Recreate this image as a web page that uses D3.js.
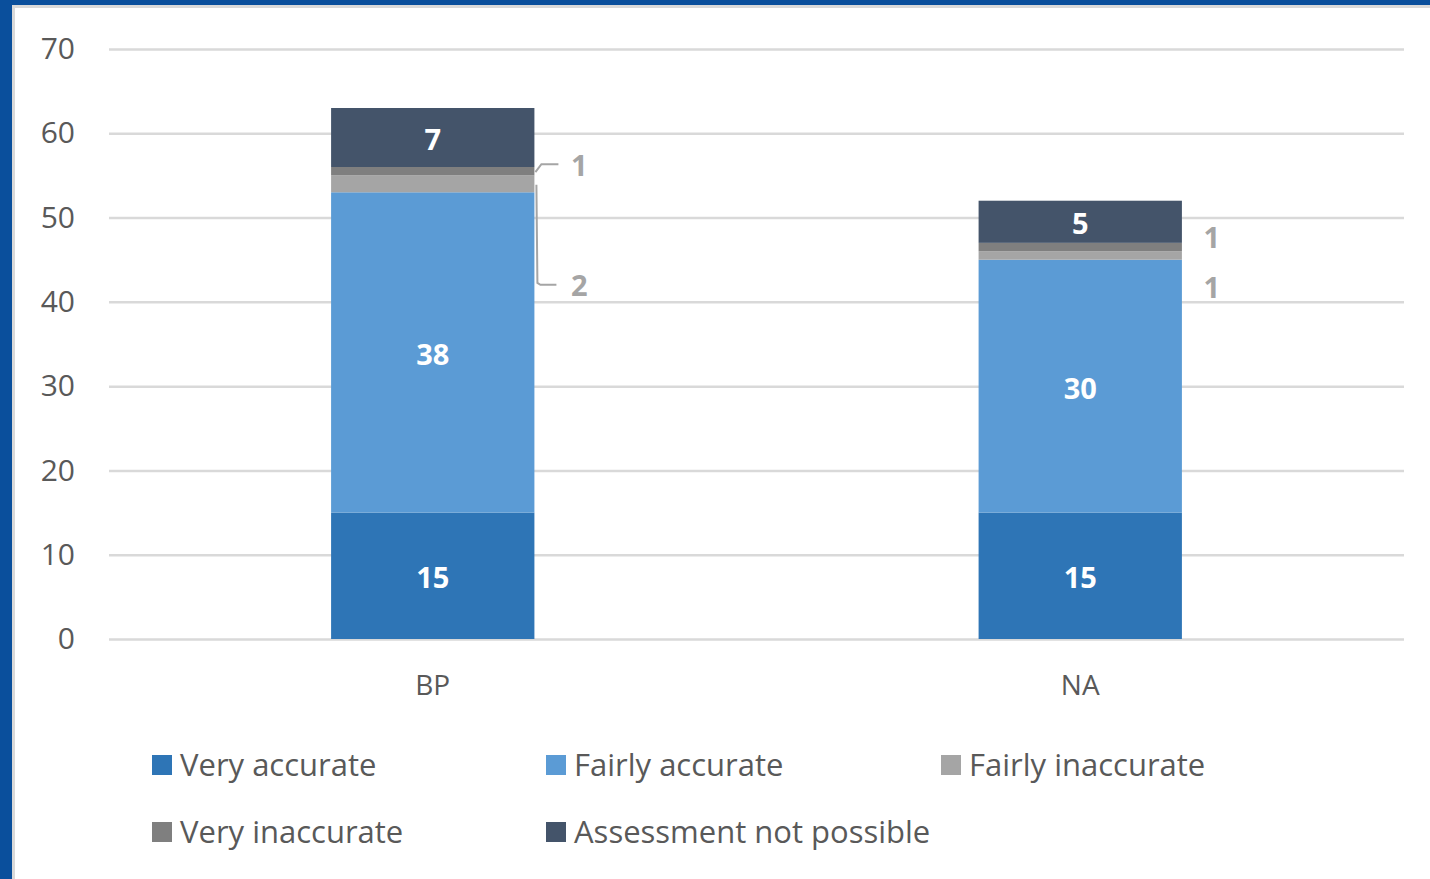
<!DOCTYPE html>
<html>
<head>
<meta charset="utf-8">
<script src="https://cdn.jsdelivr.net/npm/d3@7"></script>
<style>
  html, body { margin: 0; padding: 0; background: #ffffff; }
  svg { display: block; }
</style>
</head>
<body>
<svg id="chart"></svg>
<script>
// categories and series
var categories = ["BP", "NA"];
var seriesNames = ["Very accurate", "Fairly accurate", "Fairly inaccurate", "Very inaccurate", "Assessment not possible"];
var veryAccurate = [15, 15];
var fairlyAccurate = [38, 30];
var fairlyInaccurate = [2, 1];
var veryInaccurate = [1, 1];
var notPossible = [7, 5];
var yTicks = [0, 10, 20, 30, 40, 50, 60, 70];

var colors = ["#2E75B6", "#5B9BD5", "#A5A5A5", "#7F7F7F", "#44546A"];
var font = "'Open Sans', sans-serif";

var W = 1430, H = 879;
var margin = { top: 49, right: 26, bottom: 240, left: 109 };
var width = W - margin.left - margin.right,
    height = H - margin.top - margin.bottom;

var svg = d3.select("#chart")
    .attr("width", W)
    .attr("height", H);

// frame round the chart
svg.append("rect").attr("x", 0).attr("y", 0).attr("width", W).attr("height", H).attr("fill", "#0A4F9C");
svg.append("rect").attr("x", 12).attr("y", 5).attr("width", W - 12).attr("height", H - 5).attr("fill", "#D9D9D9");
svg.append("rect").attr("x", 15).attr("y", 8).attr("width", W - 15).attr("height", H - 8).attr("fill", "#ffffff");

var g = svg.append("g")
    .attr("transform", "translate(" + margin.left + "," + margin.top + ")");

// build rows for stacking
var rows = categories.map(function (c, i) {
    var r = { category: c };
    r[seriesNames[0]] = veryAccurate[i];
    r[seriesNames[1]] = fairlyAccurate[i];
    r[seriesNames[2]] = fairlyInaccurate[i];
    r[seriesNames[3]] = veryInaccurate[i];
    r[seriesNames[4]] = notPossible[i];
    return r;
});
var stacked = d3.stack().keys(seriesNames)(rows);

var x = d3.scaleBand().domain(categories).range([0, width]).paddingInner(0.686).paddingOuter(0.343);
var y = d3.scaleLinear().domain([0, 70]).range([height, 0]);

// gridlines
g.append("g")
    .selectAll("line")
    .data(yTicks)
    .join("line")
    .attr("x1", 0)
    .attr("x2", width)
    .attr("y1", function (d) { return y(d) + 0.5; })
    .attr("y2", function (d) { return y(d) + 0.5; })
    .attr("stroke", "#D9D9D9")
    .attr("stroke-width", 2.5);

// y axis labels
var yAxis = g.append("g")
    .call(d3.axisLeft(y).tickValues(yTicks).tickSize(0).tickPadding(34));
yAxis.select(".domain").remove();
yAxis.selectAll("text")
    .attr("font-family", font)
    .attr("font-size", "30px")
    .attr("fill", "#595959");

// x axis labels
var xAxis = g.append("g")
    .attr("transform", "translate(0," + height + ")")
    .call(d3.axisBottom(x).tickSize(0).tickPadding(36));
xAxis.select(".domain").remove();
xAxis.selectAll("text")
    .attr("font-family", font)
    .attr("font-size", "28px")
    .attr("fill", "#595959");

// bars
var layers = g.selectAll(".layer")
    .data(stacked)
    .join("g")
    .attr("class", "layer")
    .attr("fill", function (d, i) { return colors[i]; });

layers.selectAll("rect")
    .data(function (d) { return d; })
    .join("rect")
    .attr("x", function (d) { return x(d.data.category); })
    .attr("y", function (d) { return y(d[1]); })
    .attr("width", x.bandwidth())
    .attr("height", function (d) { return y(d[0]) - y(d[1]); });

// labels inside the big segments
var labelData = [];
stacked.forEach(function (layer, si) {
    layer.forEach(function (d) {
        labelData.push({ series: si, name: layer.key, cat: d.data.category, v: d[1] - d[0], y0: d[0], y1: d[1] });
    });
});

g.selectAll(".inlabel")
    .data(labelData.filter(function (d) { return d.v >= 5; }))
    .join("text")
    .attr("class", "inlabel")
    .attr("x", function (d) { return x(d.cat) + x.bandwidth() / 2; })
    .attr("y", function (d) { return y((d.y0 + d.y1) / 2) + 2; })
    .attr("dy", "0.36em")
    .attr("text-anchor", "middle")
    .attr("font-family", font)
    .attr("font-size", "29px")
    .attr("font-weight", "bold")
    .attr("fill", "#ffffff")
    .text(function (d) { return d.v; });

// small segments: labels moved off to the right (as placed in the original)
var nudge = {
    "BP|Fairly inaccurate": 102,
    "BP|Very inaccurate": -6,
    "NA|Fairly inaccurate": 32,
    "NA|Very inaccurate": -10
};
var small = labelData.filter(function (d) { return d.v < 5; });

g.selectAll(".outlabel")
    .data(small)
    .join("text")
    .attr("class", "outlabel")
    .attr("x", function (d) { return x(d.cat) + x.bandwidth() + (d.cat === "BP" ? 45 : 30); })
    .attr("y", function (d) { return y((d.y0 + d.y1) / 2) + nudge[d.cat + "|" + d.name]; })
    .attr("dy", "0.36em")
    .attr("text-anchor", "middle")
    .attr("font-family", font)
    .attr("font-size", "29px")
    .attr("font-weight", "bold")
    .attr("fill", "#A5A5A5")
    .text(function (d) { return d.v; });

// leader lines for BP
g.selectAll(".leader")
    .data(small.filter(function (d) { return d.cat === "BP"; }))
    .join("path")
    .attr("class", "leader")
    .attr("fill", "none")
    .attr("stroke", "#A5A5A5")
    .attr("stroke-width", 2)
    .attr("d", function (d) {
        var x0 = x(d.cat) + x.bandwidth();
        var ym = y((d.y0 + d.y1) / 2);
        var ly = ym + nudge[d.cat + "|" + d.name] - 1;
        if (d.name === "Very inaccurate") {
            return "M" + (x0 + 1) + "," + (ym + 1) + "L" + (x0 + 7) + "," + ly + "L" + (x0 + 24) + "," + ly;
        }
        return "M" + (x0 + 2) + "," + (ym + 1) + "L" + (x0 + 3) + "," + (ly - 2) + "L" + (x0 + 6) + "," + ly + "L" + (x0 + 22) + "," + ly;
    });

// legend
var legendCols = [152, 546, 941];
var legend = svg.append("g");
var items = legend.selectAll("g")
    .data(seriesNames)
    .join("g")
    .attr("transform", function (d, i) {
        return "translate(" + legendCols[i % 3] + "," + (765 + Math.floor(i / 3) * 67) + ")";
    });
items.append("rect")
    .attr("x", 0)
    .attr("y", -10)
    .attr("width", 20)
    .attr("height", 20)
    .attr("fill", function (d, i) { return colors[i]; });
items.append("text")
    .attr("x", 28)
    .attr("y", 0)
    .attr("dy", "0.36em")
    .attr("font-family", font)
    .attr("font-size", "31px")
    .attr("fill", "#595959")
    .text(function (d) { return d; });
</script>
</body>
</html>
